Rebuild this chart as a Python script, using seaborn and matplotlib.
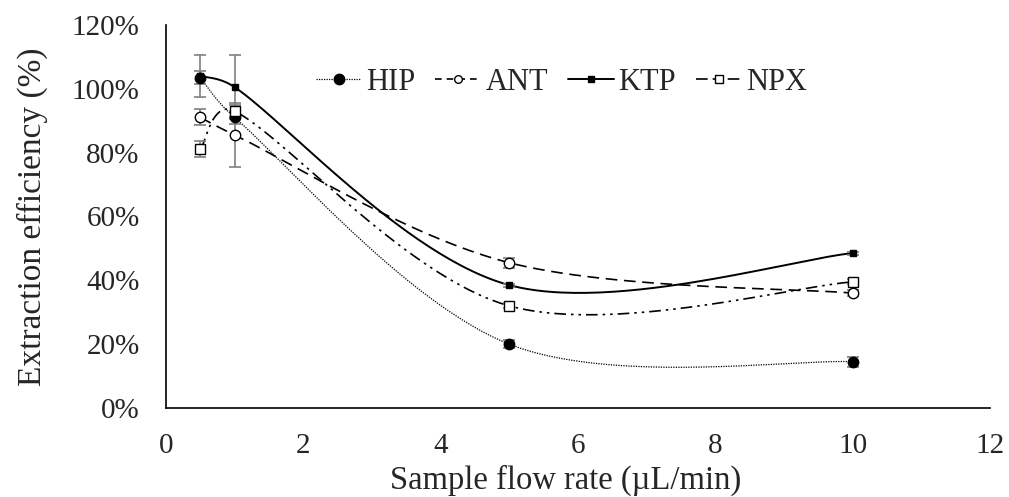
import numpy as np
import pandas as pd
import matplotlib
matplotlib.use("Agg")
import matplotlib.pyplot as plt
import seaborn as sns

# ---- data ----
flow_rate = [0.5, 1, 5, 10]
hip = [103.5, 91, 20, 14.5]
ant = [91, 85.5, 45.5, 36]
ktp = [104, 100.5, 38.5, 48.5]
npx = [81, 93, 32, 39.5]
hip_err = [2, 2, 1.2, 1.5]
ant_err = [2.5, 10, 1.5, 1]
ktp_err = [6.5, 10, 0.5, 0.5]
npx_err = [2.5, 2, 0.8, 0.8]

sns.set_style("white")
plt.rcParams["font.family"] = ["Liberation Serif", "DejaVu Serif"]

# pixels per data unit (approx), used so the smoothing works in screen space
SX, SY = 824 / 12, 383 / 120


def excel_smooth(x, y, n=60):
    # bezier smoothing in the style of Excel "smoothed line"
    p = np.column_stack([np.asarray(x) * SX, np.asarray(y) * SY]).astype(float)
    m = len(p)
    t = np.linspace(0, 1, n)[:, None]
    out = []
    for i in range(m - 1):
        p1, p2 = p[i], p[i + 1]
        p0 = p[i - 1] if i > 0 else p1
        p3 = p[i + 2] if i + 2 < m else p2
        d12 = np.linalg.norm(p2 - p1)
        d02 = np.linalg.norm(p2 - p0)
        d13 = np.linalg.norm(p3 - p1)
        f1 = 1 / 6 if d02 / 6 < d12 / 2 else d12 / (2 * d02)
        f2 = 1 / 6 if d13 / 6 < d12 / 2 else d12 / (2 * d13)
        b1 = p1 + f1 * (p2 - p0)
        b2 = p2 - f2 * (p3 - p1)
        seg = ((1 - t) ** 3) * p1 + 3 * ((1 - t) ** 2) * t * b1 + 3 * (1 - t) * t ** 2 * b2 + t ** 3 * p2
        out.append(seg)
    s = np.vstack(out)
    return s[:, 0] / SX, s[:, 1] / SY


series = [
    ("HIP", hip, hip_err, (0, (1, 1)), "o", "black", 7.5, 0.9, 7.5),
    ("ANT", ant, ant_err, (0, (7, 4)), "o", "white", 7.5, 1.2, 5.5),
    ("KTP", ktp, ktp_err, "-", "s", "black", 4.5, 1.4, 4.5),
    ("NPX", npx, npx_err, (0, (7, 3, 1.5, 3, 1.5, 3)), "s", "white", 7.5, 1.2, 5.5),
]

fig = plt.figure(figsize=(10.09, 4.97), dpi=100)
ax = fig.add_axes([0.1645, 0.179, 0.8165, 0.771])

handles = []
for name, vals, err, ls, mk, fc, ms, lw, lms in series:
    sx, sy = excel_smooth(flow_rate, vals)
    sns.lineplot(x=sx, y=sy, ax=ax, color="black", linestyle=ls, linewidth=lw,
                 sort=False, estimator=None)
    ax.errorbar(flow_rate, vals, yerr=err, fmt="none", ecolor="#7f7f7f",
                elinewidth=1.2, capsize=4, capthick=1.2, zorder=2)
    df = pd.DataFrame({"x": flow_rate, "y": vals})
    ax.plot(df["x"], df["y"], linestyle="none", marker=mk, markersize=ms,
            markerfacecolor=fc, markeredgecolor="black", markeredgewidth=1.0, zorder=4)
    h, = ax.plot([], [], color="black", linestyle=ls if ls != (0, (7, 4)) else (0, (4, 3)),
                 linewidth=lw, marker=mk, markersize=lms, markerfacecolor=fc,
                 markeredgecolor="black")
    handles.append((h, name))

ax.set_xlim(0, 12)
ax.set_ylim(0, 120)
ax.set_xticks(range(0, 13, 2))
ax.set_yticks(range(0, 121, 20))
ax.set_yticklabels([f"{v}%" for v in range(0, 121, 20)])
ax.tick_params(axis="y", labelsize=21, length=0, pad=19)
ax.tick_params(axis="x", labelsize=21, length=0, pad=18)
ax.set_xlabel("Sample flow rate (\u00b5L/min)", fontsize=23.5)
ax.xaxis.set_label_coords(0.485, -0.148)
ax.set_ylabel("Extraction efficiency (%)", fontsize=24, labelpad=17)
for side in ["top", "right"]:
    ax.spines[side].set_visible(False)
for side in ["left", "bottom"]:
    ax.spines[side].set_color("black")
    ax.spines[side].set_linewidth(1.2)

ax.legend([h for h, _ in handles], [n for _, n in handles], ncol=4, frameon=False,
          fontsize=22, loc="center", bbox_to_anchor=(0.48, 0.85),
          handlelength=1.5, handletextpad=0.15, columnspacing=0.65,
          borderpad=0, borderaxespad=0)

fig.savefig("out.png", dpi=100)
